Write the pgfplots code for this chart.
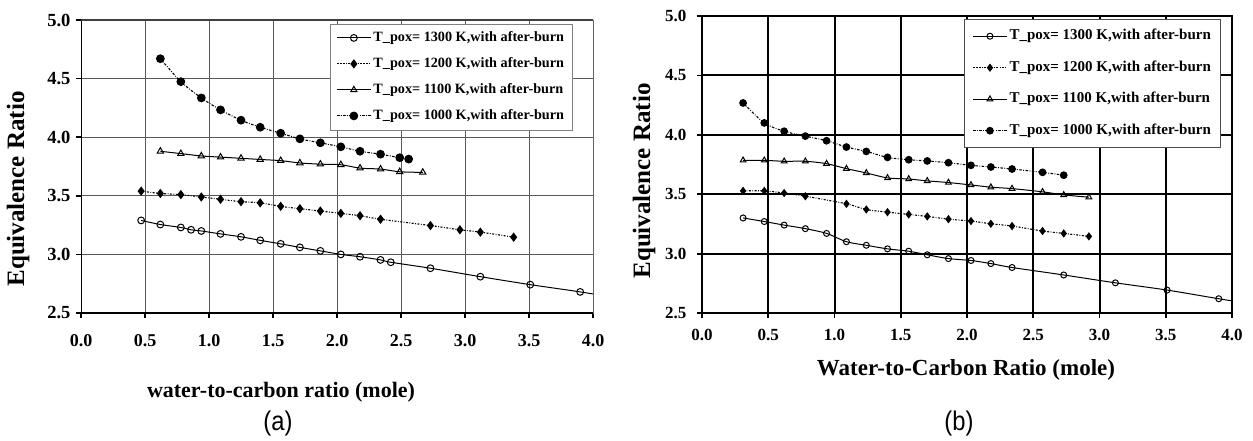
\documentclass[border=0pt]{standalone}
\usepackage{fontspec}
\setmainfont{Liberation Serif}
\newfontfamily\capfont{Liberation Sans}
\usepackage{pgfplots}
\pgfplotsset{compat=1.18}

\pgfplotstableread{
x y
0.47 3.29
0.62 3.255
0.78 3.23
0.86 3.21
0.94 3.20
1.09 3.175
1.25 3.15
1.40 3.12
1.56 3.09
1.71 3.06
1.87 3.03
2.03 3.00
2.18 2.98
2.34 2.953
2.42 2.933
2.73 2.882
3.12 2.81
3.51 2.742
3.90 2.68
4.29 2.61
}\aA
\pgfplotstableread{
x y
0.47 3.54
0.62 3.52
0.78 3.51
0.94 3.49
1.09 3.47
1.25 3.45
1.40 3.44
1.56 3.41
1.71 3.39
1.87 3.37
2.03 3.35
2.18 3.33
2.34 3.30
2.73 3.246
2.96 3.21
3.12 3.19
3.38 3.147
}\aB
\pgfplotstableread{
x y
0.62 3.88
0.78 3.86
0.94 3.84
1.09 3.83
1.25 3.82
1.40 3.81
1.56 3.80
1.71 3.78
1.87 3.77
2.03 3.765
2.18 3.736
2.34 3.728
2.49 3.705
2.67 3.70
}\aC
\pgfplotstableread{
x y
0.62 4.67
0.78 4.474
0.94 4.335
1.09 4.233
1.25 4.145
1.40 4.085
1.56 4.034
1.71 3.986
1.87 3.952
2.03 3.918
2.18 3.88
2.34 3.855
2.49 3.825
2.56 3.813
}\aD
\pgfplotstableread{
x y
0.31 3.30
0.47 3.27
0.62 3.24
0.78 3.21
0.94 3.17
1.09 3.10
1.24 3.07
1.40 3.04
1.56 3.02
1.70 2.99
1.86 2.958
2.03 2.942
2.18 2.916
2.34 2.883
2.73 2.82
3.12 2.754
3.51 2.693
3.90 2.62
4.29 2.55
}\bA
\pgfplotstableread{
x y
0.31 3.528
0.47 3.528
0.62 3.51
0.78 3.483
1.09 3.419
1.24 3.371
1.40 3.349
1.56 3.33
1.70 3.313
1.86 3.29
2.03 3.274
2.18 3.251
2.34 3.232
2.57 3.19
2.73 3.17
2.92 3.145
}\bB
\pgfplotstableread{
x y
0.31 3.785
0.47 3.785
0.62 3.777
0.78 3.777
0.94 3.757
1.09 3.715
1.24 3.679
1.40 3.637
1.56 3.628
1.70 3.612
1.86 3.598
2.03 3.578
2.18 3.559
2.34 3.547
2.57 3.52
2.73 3.494
2.92 3.475
}\bC
\pgfplotstableread{
x y
0.31 4.268
0.47 4.10
0.62 4.03
0.78 3.989
0.94 3.95
1.09 3.897
1.24 3.86
1.40 3.81
1.56 3.79
1.70 3.78
1.86 3.765
2.03 3.743
2.18 3.729
2.34 3.712
2.57 3.684
2.73 3.66
}\bD

\pgfplotsset{
  s1300/.style={black, line width=1pt, smooth, mark=o, mark size=3.4pt, mark options={solid, fill=white, line width=1pt}},
  s1200/.style={black, line width=1.1pt, smooth, dash pattern=on 2pt off 1.5pt on 0.8pt off 1.5pt, mark=diamond*, mark size=3.8pt, mark options={solid}},
  s1100/.style={black, line width=1pt, smooth, mark=triangle, mark size=3.6pt, mark options={solid, fill=white, line width=1pt}},
  s1000/.style={black, line width=1.1pt, smooth, dash pattern=on 2.5pt off 1.5pt on 0.8pt off 1.5pt, mark=*, mark size=3.8pt, mark options={solid}},
  common/.style={
    scale only axis,
    xmin=0, xmax=4, ymin=2.5, ymax=5,
    xtick={0,0.5,1,1.5,2,2.5,3,3.5,4},
    ytick={2.5,3,3.5,4,4.5,5},
    /pgf/number format/.cd, fixed, fixed zerofill, precision=1, assume math mode=true, /pgfplots/.cd,
    tick align=outside, tick pos=left, major tick length=5pt,
    grid=major, clip marker paths=true,
    legend cell align=left,
    legend image code/.code={\draw[mark repeat=2,mark phase=2,##1] plot coordinates {(0cm,0cm) (0.6cm,0cm) (1.2cm,0cm)};},
  },
}

\begin{document}
\begin{tikzpicture}
\path[use as bounding box] (0,0) rectangle (1253pt,440pt);

% ---------------- panel (a)
\begin{axis}[common,
  at={(81pt,127pt)}, anchor=south west, width=512pt, height=293pt,
  grid style={black!65, line width=0.7pt},
  axis line style={black!60, line width=0.8pt},
  major tick style={black, line width=1.5pt},
  xticklabel style={font=\fontsize{18}{18}\selectfont\bfseries, yshift=-13pt},
  yticklabel style={font=\fontsize{18.5}{18.5}\selectfont\bfseries, xshift=-2pt},
  legend style={at={(0.486,0.988)}, anchor=north west, draw=black!50, line width=0.8pt,
    font=\fontsize{14.2}{14.2}\selectfont\bfseries, inner sep=6pt, row sep=10pt,
    nodes={inner ysep=1.5pt, text height=10pt, text depth=3pt}},
]
\addplot[s1300] table {\aA};
\addlegendentry{T\_pox= 1300 K,with after-burn}
\addplot[s1200] table {\aB};
\addlegendentry{T\_pox= 1200 K,with after-burn}
\addplot[s1100] table {\aC};
\addlegendentry{T\_pox= 1100 K,with after-burn}
\addplot[s1000] table {\aD};
\addlegendentry{T\_pox= 1000 K,with after-burn}
\draw[black, line width=1.8pt] (rel axis cs:0,1) -- (rel axis cs:0,0) -- (rel axis cs:1,0);
\draw[black!75, line width=1.3pt] (rel axis cs:0,1) -- (rel axis cs:1,1);
\end{axis}

% ---------------- panel (b)
\begin{axis}[common,
  at={(702pt,127pt)}, anchor=south west, width=530pt, height=297pt,
  grid style={black, line width=2pt},
  axis line style={black, line width=2pt},
  major tick style={black, line width=1.8pt},
  xticklabel style={font=\fontsize{17}{17}\selectfont\bfseries, yshift=-8pt},
  yticklabel style={font=\fontsize{17}{17}\selectfont\bfseries, xshift=-7pt},
  legend style={at={(0.494,0.99)}, anchor=north west, draw=black!70, line width=1pt, fill=white,
    font=\fontsize{15}{15}\selectfont\bfseries, inner sep=8pt, row sep=14pt,
    nodes={inner ysep=1.5pt, text height=11pt, text depth=3.5pt}},
]
\addplot[s1300, mark size=3pt] table {\bA};
\addlegendentry{T\_pox= 1300 K,with after-burn}
\addplot[s1200, mark size=3.3pt] table {\bB};
\addlegendentry{T\_pox= 1200 K,with after-burn}
\addplot[s1100, mark size=3.3pt] table {\bC};
\addlegendentry{T\_pox= 1100 K,with after-burn}
\addplot[s1000, mark size=3.3pt] table {\bD};
\addlegendentry{T\_pox= 1000 K,with after-burn}
\end{axis}

% labels
\node[rotate=90, font=\fontsize{25}{25}\selectfont\bfseries] at (18pt,251pt) {Equivalence Ratio};
\node[font=\fontsize{22}{22}\selectfont\bfseries] at (281pt,48pt) {water-to-carbon ratio (mole)};
\node[font=\capfont\fontsize{27}{27}\selectfont, xscale=0.88] at (278pt,16pt) {(a)};

\node[rotate=90, font=\fontsize{25}{25}\selectfont\bfseries] at (644pt,259pt) {Equivalence Ratio};
\node[font=\fontsize{23}{23}\selectfont\bfseries] at (966pt,70pt) {Water-to-Carbon Ratio (mole)};
\node[font=\capfont\fontsize{27}{27}\selectfont, xscale=0.88] at (959pt,16pt) {(b)};
\end{tikzpicture}
\end{document}
